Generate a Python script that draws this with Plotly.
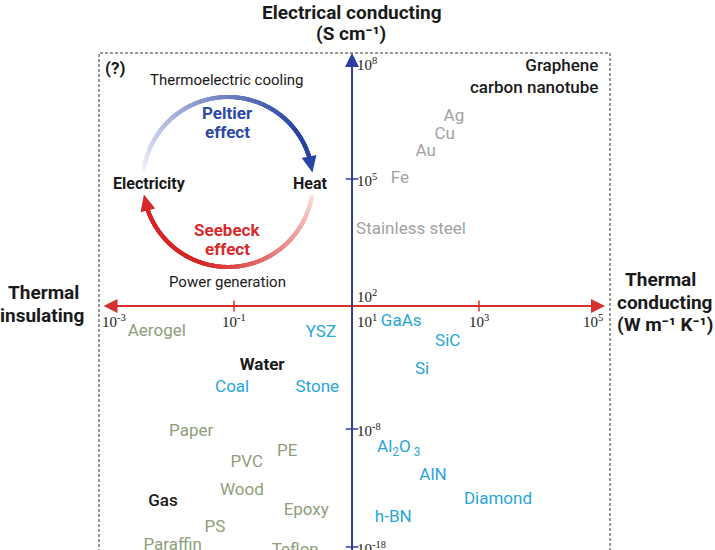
import numpy as np
import plotly.graph_objects as go

# ---------------- data (log10 values) ----------------
# thermal conductivity log10(W m-1 K-1), electrical conductivity log10(S cm-1)
insul_names = ["Aerogel", "Paper", "PE", "PVC", "Wood", "Epoxy", "PS", "Paraffin", "Teflon"]
insul_logk = [-2.26, -1.70, -0.13, -0.79, -0.87, 0.18, -1.31, -2.00, 0.00]
insul_logs = [-0.76, -8.25, -9.95, -10.9, -13.25, -14.9, -16.4, -17.9, -18.3]

semi_names = ["YSZ", "Coal", "Stone", "GaAs", "SiC", "Si", "Al<sub>2</sub>O<sub> 3</sub>",
              "AlN", "Diamond", "h-BN"]
semi_logk = [0.42, -1.03, 0.36, 1.73, 2.49, 2.07, 1.69, 2.25, 3.31, 1.60]
semi_logs = [-0.84, -4.9, -4.9, 0.0, -1.5, -3.6, -9.6, -12.0, -14.0, -15.5]

metal_names = ["Ag", "Cu", "Au", "Fe", "Stainless steel"]
metal_logk = [2.59, 2.44, 2.13, 1.71, 1.89]
metal_logs = [6.6, 6.14, 5.7, 5.0, 3.68]

other_names = ["<b>Water</b>", "Gas"]
other_logk = [-0.54, -2.16]
other_logs = [-3.3, -14.2]

carbon_label = "Graphene<br>carbon nanotube"
carbon_logk = 4.98
carbon_logs = 7.66

xtick_decades = [-3, -1, 1, 3, 5]
ytick_decades = [8, 5, 2, -8, -18]

# ---------------- scales ----------------
FONT = "Roboto, 'Liberation Sans', sans-serif"
TICK_FONT = "'Liberation Serif', 'DejaVu Serif', serif"
X_RANGE = [-4.820, 6.853]          # log10 k across the canvas
# schematic, piecewise vertical scale (decade -> display units)
Y_BREAK_DEC = [-30, -18, -8, 2, 5, 8, 12]
Y_BREAK_POS = [-688.6, -547, -429, -295, -179, -63, 91.7]


def ypos(s):
    return np.interp(s, Y_BREAK_DEC, Y_BREAK_POS)


X_CROSS = 0.927   # where the vertical axis sits (log10 k)
Y_CROSS = 1.18    # where the horizontal axis sits (log10 sigma)

GREEN = "#8ea07a"
CYAN = "#29a6d9"
GRAY = "#a2a2a2"
AX_BLUE = "#2c3f9e"
AX_RED = "#d8302c"
T_BLUE = "#2d4aa6"
T_RED = "#d52b2b"

fig = go.Figure()


def text_trace(names, lk, ls, color, size=17, weight="normal"):
    fig.add_trace(go.Scatter(
        x=lk, y=ypos(np.array(ls)), mode="text", text=names,
        textposition="middle center",
        textfont=dict(family=FONT, size=size, color=color, weight=weight),
        hoverinfo="skip", showlegend=False))


text_trace(insul_names, insul_logk, insul_logs, GREEN)
text_trace(semi_names, semi_logk, semi_logs, CYAN)
text_trace(metal_names, metal_logk, metal_logs, GRAY)
text_trace(other_names, other_logk, other_logs, "#1a1a1a", size=17, weight=500)

# tick marks
fig.add_trace(go.Scatter(
    x=[-1, 3], y=ypos(np.array([Y_CROSS, Y_CROSS])), mode="markers",
    marker=dict(symbol="line-ns", size=8, line=dict(width=1.5, color=AX_RED)),
    hoverinfo="skip", showlegend=False))
fig.add_trace(go.Scatter(
    x=[X_CROSS] * 3, y=ypos(np.array([5, -8, -18])), mode="markers",
    marker=dict(symbol="line-ew", size=9, line=dict(width=1.5, color=AX_BLUE)),
    hoverinfo="skip", showlegend=False))

annotations = []

# axes arrows
annotations.append(dict(
    x=5.057, y=float(ypos(Y_CROSS)), ax=-3.155, ay=float(ypos(Y_CROSS)),
    xref="x", yref="y", axref="x", ayref="y", text="", showarrow=True,
    arrowside="end+start", arrowhead=2, startarrowhead=2, arrowsize=1.4,
    startarrowsize=1.4, arrowwidth=2, arrowcolor=AX_RED))
annotations.append(dict(
    x=X_CROSS, y=float(ypos(8.26)), ax=X_CROSS, ay=float(ypos(-24)),
    xref="x", yref="y", axref="x", ayref="y", text="", showarrow=True,
    arrowhead=2, arrowsize=1.4, arrowwidth=2, arrowcolor=AX_BLUE))

# x tick labels
for d in xtick_decades:
    a = dict(x=d, y=float(ypos(Y_CROSS)), xref="x", yref="y",
             text="10<sup>%d</sup>" % d, showarrow=False, yanchor="middle",
             yshift=-15, font=dict(family=TICK_FONT, size=15, color="#222"))
    if d == 1:
        a.update(x=X_CROSS, xanchor="left", xshift=3)
    elif d == 5:
        a.update(xanchor="right", xshift=3)
    elif d == -3:
        a.update(xanchor="center", xshift=3)
    else:
        a.update(xanchor="center")
    annotations.append(a)

# y tick labels
for d in ytick_decades:
    annotations.append(dict(
        x=X_CROSS, y=float(ypos(d)), xref="x", yref="y",
        text="10<sup>%d</sup>" % d, showarrow=False, xanchor="left",
        yanchor="middle", xshift=3, yshift=-1,
        font=dict(family=TICK_FONT, size=15, color="#222")))

# graphene label
annotations.append(dict(
    x=carbon_logk, y=float(ypos(carbon_logs)), xref="x", yref="y",
    text=carbon_label, showarrow=False, xanchor="right", yanchor="middle",
    align="right", font=dict(family=FONT, size=17, color="#1a1a1a", weight=500)))


def ptext(px, py, txt, size, color="#1a1a1a", bold=False, anchor="center"):
    annotations.append(dict(
        x=px / 715, y=1 - py / 550, xref="paper", yref="paper", text=txt,
        showarrow=False, xanchor=anchor, yanchor="middle",
        font=dict(family=FONT, size=size, color=color,
                  weight="bold" if bold else "normal")))


# axis titles
ptext(352, 12, "Electrical conducting", 19, bold=True)
ptext(351, 33, "(S cm\u207b\u00b9)", 19, bold=True)
ptext(43, 292, "Thermal", 19, bold=True)
ptext(42, 315, "insulating", 19, bold=True)
ptext(660, 280, "Thermal", 19, bold=True)
ptext(664, 302, "conducting", 19, bold=True)
ptext(665, 324, "(W m\u207b\u00b9 K\u207b\u00b9)", 19, bold=True)

# thermoelectric inset
ptext(115, 68, "(?)", 17, bold=True)
ptext(227, 80, "Thermoelectric cooling", 15)
ptext(227, 113, "Peltier", 17, color=T_BLUE, bold=True)
ptext(227, 132, "effect", 17, color=T_BLUE, bold=True)
ptext(149, 184, "Electricity", 16, bold=True)
ptext(310, 184, "Heat", 16, bold=True)
ptext(227, 230, "Seebeck", 17, color=T_RED, bold=True)
ptext(227, 249, "effect", 17, color=T_RED, bold=True)
ptext(227, 282, "Power generation", 15)

# gradient arcs on an overlay canvas (pixel space of the inset)
CX, CY, R = 228, 182, 85


def pt(th):
    t = np.radians(th)
    return CX + R * np.cos(t), CY - R * np.sin(t)


def blend(c0, c1, f):
    return "rgb(%d,%d,%d)" % tuple(int(round(a + (b - a) * f)) for a, b in zip(c0, c1))


def arc(th0, th1, tip, base, c0, c1, speed):
    n = 420
    th = np.linspace(th0, th1, n)
    xs, ys = pt(th)
    t = np.linspace(0, 1, n)
    f = np.clip(t * speed, 0, 1) ** 0.85
    cols = [blend(c0, c1, v) for v in f]
    fig.add_trace(go.Scatter(x=xs, y=ys, mode="markers", xaxis="x2", yaxis="y2",
                             marker=dict(size=4.2, color=cols, line=dict(width=0)),
                             hoverinfo="skip", showlegend=False))
    P = np.array(pt(tip))
    B = np.array(pt(base))
    d = (P - B) / np.linalg.norm(P - B)
    nrm = np.array([-d[1], d[0]])
    c1p = B + nrm * 7.5
    c2p = B - nrm * 7.5
    fig.add_trace(go.Scatter(
        x=[P[0], c1p[0], c2p[0], P[0]], y=[P[1], c1p[1], c2p[1], P[1]],
        mode="lines", fill="toself", fillcolor=blend(c0, c1, 1),
        line=dict(width=0, color=blend(c0, c1, 1)), xaxis="x2", yaxis="y2",
        hoverinfo="skip", showlegend=False))


arc(172, 16, 6.5, 17.5, (246, 247, 252), (40, 68, 163), 1.15)
arc(-10, -162, -171.5, -160.5, (250, 226, 222), (214, 38, 38), 1.5)

fig.update_layout(
    width=715, height=550, margin=dict(l=0, r=0, t=0, b=0),
    paper_bgcolor="white", plot_bgcolor="white", showlegend=False,
    xaxis=dict(range=X_RANGE, visible=False, showgrid=False, zeroline=False),
    yaxis=dict(range=[-550, 0], visible=False, showgrid=False, zeroline=False),
    xaxis2=dict(range=[0, 715], overlaying="x", anchor="y2", visible=False),
    yaxis2=dict(range=[550, 0], overlaying="y", anchor="x2", visible=False),
    annotations=annotations,
    shapes=[dict(type="rect", xref="paper", yref="paper",
                 x0=99 / 715, x1=610 / 715, y0=-0.3, y1=1 - 53 / 550,
                 line=dict(color="#333", width=1, dash="3px,2px"),
                 fillcolor="rgba(0,0,0,0)", layer="below")],
)

fig.write_html("out.html")
